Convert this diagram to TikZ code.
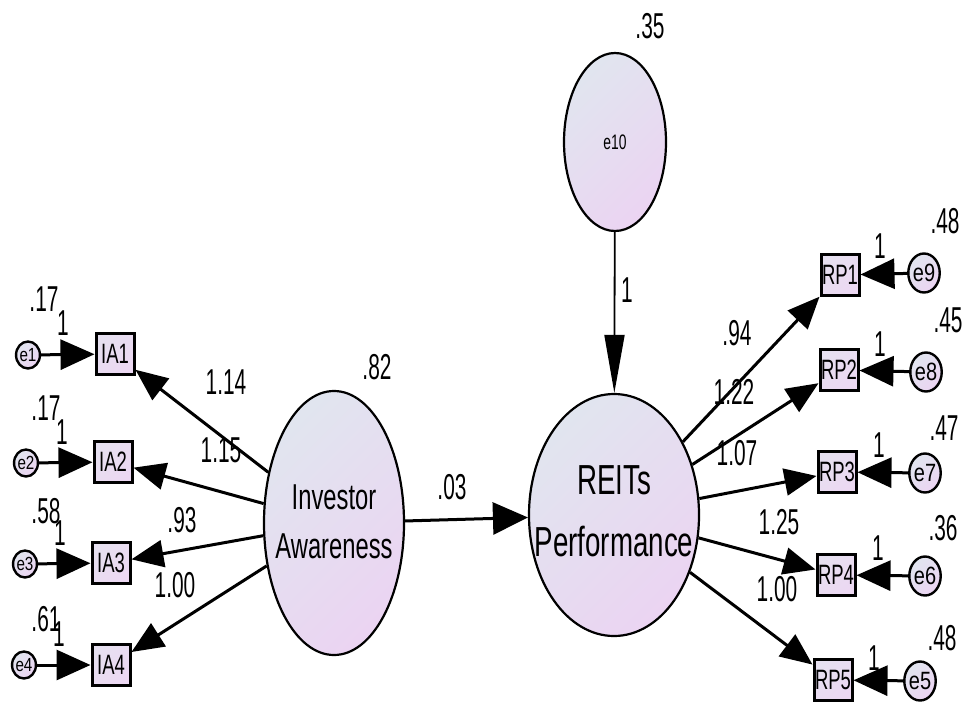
\documentclass[tikz,border=0pt]{standalone}
\usepackage{fontspec}
\setmainfont{Liberation Sans}
\newfontfamily\numfont[FakeStretch=0.58]{Liberation Sans}
\newfontfamily\namefont[FakeStretch=0.66]{Liberation Sans}
\newfontfamily\efont[FakeStretch=0.8]{Liberation Sans}
\usetikzlibrary{arrows.meta,shapes.geometric}
\definecolor{shadeA}{HTML}{E1E5EF}
\definecolor{shadeB}{HTML}{EBD4F2}
\definecolor{boxA}{HTML}{E6E0F0}
\definecolor{boxB}{HTML}{ECD8F2}
\tikzset{
  latent/.style={ellipse, draw, line width=2.2pt, top color=shadeA, bottom color=shadeB,
    shading angle=45, inner sep=0pt},
  latenttext/.style={inner sep=0pt, align=center},
  obs/.style={rectangle, draw, line width=3pt, top color=boxA, bottom color=boxB,
    shading angle=45, minimum width=38pt, minimum height=41pt, inner sep=0pt,
    font=\namefont\fontsize{28}{28}\selectfont},
  errl/.style={ellipse, draw, line width=2.4pt, top color=shadeA, bottom color=shadeB,
    shading angle=45, minimum width=20pt, minimum height=27pt, inner sep=0pt,
    font=\efont\fontsize{19}{19}\selectfont},
  errr/.style={ellipse, draw, line width=2.4pt, top color=shadeA, bottom color=shadeB,
    shading angle=45, minimum width=24pt, minimum height=39pt, inner sep=0pt,
    font=\efont\fontsize{25}{25}\selectfont},
  num/.style={inner sep=0pt, font=\numfont\fontsize{36}{36}\selectfont},
  loadarrow/.style={line width=3pt, -{Triangle[length=32pt,width=27pt]}},
  errarrow/.style={line width=3pt, -{Triangle[length=34pt,width=30pt]}},
  patharrow/.style={line width=3pt, -{Triangle[length=35pt,width=32pt]}},
  disturbarrow/.style={line width=1.8pt, -{Triangle[length=58pt,width=20pt]}},
}
\begin{document}
\begin{tikzpicture}[x=1pt,y=-1pt]
\useasboundingbox (0,0) rectangle (965,706);

% latent variables
\node[latent, minimum width=140pt, minimum height=264pt] (IA) at (334,523) {};
\node[latenttext, font=\namefont\fontsize{36}{49}\selectfont] (IAtext) at (334,522) {Investor\\Awareness};
\node[latent, minimum width=170pt, minimum height=242pt] (REITs) at (614,515) {};
\node[latenttext, font=\namefont\fontsize{42}{62}\selectfont] (REITstext) at (614,511) {REITs\\Performance};
\node[latent, minimum width=102pt, minimum height=178pt,
  font=\namefont\fontsize{21}{21}\selectfont] (e10) at (615,142) {e10};

% indicators of Investor Awareness
\node[obs] (IA1) at (115,354) {IA1};
\node[obs] (IA2) at (113,462) {IA2};
\node[obs] (IA3) at (111,563) {IA3};
\node[obs] (IA4) at (111,665) {IA4};

\node[errl] (e1) at (28,355) {e1};
\node[errl] (e2) at (26,463) {e2};
\node[errl] (e3) at (25,564) {e3};
\node[errl] (e4) at (24,665) {e4};

% indicators of REITs Performance
\node[obs] (RP1) at (840,275) {RP1};
\node[obs] (RP2) at (839,370) {RP2};
\node[obs] (RP3) at (837,472) {RP3};
\node[obs] (RP4) at (836,575) {RP4};
\node[obs] (RP5) at (833,680) {RP5};

\node[errr] (e9) at (924,273) {e9};
\node[errr] (e8) at (926,372) {e8};
\node[errr] (e7) at (925,473) {e7};
\node[errr] (e6) at (925,576) {e6};
\node[errr] (e5) at (920,681) {e5};

% measurement errors
\foreach \e/\o in {e1/IA1,e2/IA2,e3/IA3,e4/IA4,e9/RP1,e8/RP2,e7/RP3,e6/RP4,e5/RP5}
  \draw[errarrow] (\e) -- (\o);

% loadings
\foreach \o in {IA1,IA2,IA3,IA4}
  \draw[loadarrow] (IA) -- (\o);
\foreach \o in {RP1,RP2,RP3,RP4,RP5}
  \draw[loadarrow] (REITs) -- (\o);

% structural path and disturbance
\draw[patharrow] (IA) -- (REITs);
\draw[disturbarrow] (e10) -- (REITs);

% variances and error weights, left side
\node[num] (v1) at (44,299) {.17};  \node[num] (w1) at (63,323) {1};
\node[num] (v2) at (46,408) {.17};  \node[num] (w2) at (62,432) {1};
\node[num] (v3) at (46,511) {.58};  \node[num] (w3) at (60,533) {1};
\node[num] (v4) at (46,619) {.61};  \node[num] (w4) at (59,634) {1};

% loadings, left side
\node[num] (l1) at (226,382) {1.14};
\node[num] (l2) at (221,450) {1.15};
\node[num] (l3) at (182,520) {.93};
\node[num] (l4) at (175,585) {1.00};

% latent variances and path coefficient
\node[num] (vIA) at (377,367) {.82};
\node[num] (b1) at (452,487) {.03};
\node[num] (v10) at (650,26) {.35};
\node[num] (w10) at (627,290) {1};

% loadings, right side
\node[num] (r1) at (737,333) {.94};
\node[num] (r2) at (734,392) {1.22};
\node[num] (r3) at (737,453) {1.07};
\node[num] (r4) at (779,522) {1.25};
\node[num] (r5) at (777,589) {1.00};

% variances and error weights, right side
\node[num] (v9) at (945,221) {.48};  \node[num] (w9) at (880,246) {1};
\node[num] (v8) at (948,320) {.45};  \node[num] (w8) at (880,344) {1};
\node[num] (v7) at (944,428) {.47};  \node[num] (w7) at (879,445) {1};
\node[num] (v6) at (943,528) {.36};  \node[num] (w6) at (878,548) {1};
\node[num] (v5) at (942,638) {.48};  \node[num] (w5) at (874,658) {1};
\end{tikzpicture}
\end{document}
